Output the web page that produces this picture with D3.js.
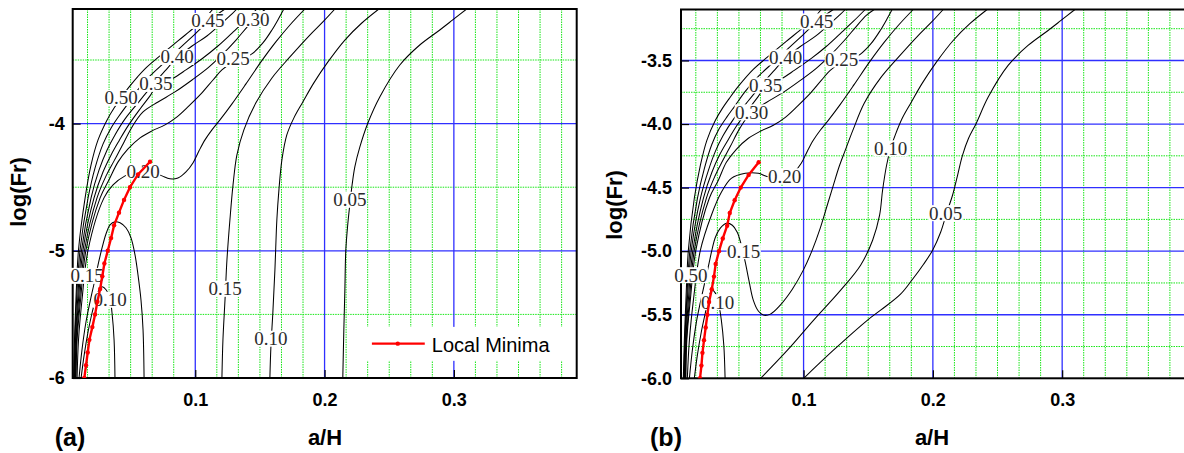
<!DOCTYPE html>
<html>
<head>
<meta charset="utf-8">
<script src="https://cdn.jsdelivr.net/npm/d3@7"></script>
<style>
  body { margin: 0; background: #fff; }
  svg { display: block; font-family: "Liberation Sans", Arial, sans-serif; }
</style>
</head>
<body>
<svg id="chart" width="1184" height="453"></svg>
<script>
// ---------------- data ----------------
// Contour traces, points are [a/H, log(Fr)].

// Panel (a)
const a_c050 = [[0.0059,-6.0],[0.0066,-5.699],[0.0077,-5.385],[0.0097,-4.992],[0.0148,-4.584],[0.0194,-4.324],[0.0248,-4.128],[0.0318,-3.971],[0.0372,-3.877],[0.0426,-3.798],[0.0495,-3.704],[0.0611,-3.570],[0.0727,-3.468],[0.0866,-3.350],[0.0998,-3.240],[0.1083,-3.162],[0.1137,-3.099]];
const a_c045 = [[0.0063,-6.0],[0.0070,-5.699],[0.0082,-5.385],[0.0109,-4.992],[0.0171,-4.584],[0.0225,-4.348],[0.0287,-4.159],[0.0349,-4.034],[0.0410,-3.940],[0.0472,-3.853],[0.0549,-3.743],[0.0650,-3.625],[0.0766,-3.515],[0.0882,-3.405],[0.0998,-3.296],[0.1098,-3.201],[0.1175,-3.138],[0.1230,-3.099]];
const a_c040 = [[0.0066,-6.0],[0.0074,-5.699],[0.0090,-5.385],[0.0121,-4.992],[0.0194,-4.584],[0.0256,-4.364],[0.0318,-4.207],[0.0379,-4.089],[0.0457,-3.963],[0.0557,-3.837],[0.0665,-3.704],[0.0766,-3.586],[0.0859,-3.484],[0.0975,-3.390],[0.1090,-3.311],[0.1206,-3.209],[0.1284,-3.138],[0.1322,-3.099]];
const a_c035 = [[0.0070,-6.0],[0.0078,-5.699],[0.0097,-5.385],[0.0132,-4.992],[0.0217,-4.584],[0.0287,-4.379],[0.0349,-4.246],[0.0410,-4.136],[0.0480,-4.018],[0.0573,-3.885],[0.0650,-3.782],[0.0704,-3.704],[0.0820,-3.649],[0.0928,-3.578],[0.1060,-3.484],[0.1175,-3.390],[0.1284,-3.288],[0.1384,-3.193],[0.1477,-3.099]];
const a_c030 = [[0.0074,-6.0],[0.0082,-5.699],[0.0105,-5.385],[0.0144,-4.992],[0.0240,-4.584],[0.0310,-4.411],[0.0372,-4.293],[0.0434,-4.175],[0.0511,-4.026],[0.0596,-3.908],[0.0712,-3.830],[0.0843,-3.751],[0.0975,-3.657],[0.1098,-3.562],[0.1206,-3.460],[0.1315,-3.343],[0.1407,-3.233],[0.1485,-3.146],[0.1546,-3.099]];
const a_c025 = [[0.0078,-6.0],[0.0086,-5.699],[0.0113,-5.385],[0.0155,-4.992],[0.0264,-4.584],[0.0333,-4.442],[0.0403,-4.301],[0.0480,-4.199],[0.0573,-4.112],[0.0665,-4.057],[0.0766,-4.010],[0.0859,-3.947],[0.0951,-3.861],[0.1044,-3.767],[0.1137,-3.657],[0.1206,-3.578],[0.1284,-3.523],[0.1361,-3.492],[0.1438,-3.452],[0.1523,-3.366],[0.1593,-3.264],[0.1647,-3.170],[0.1685,-3.099]];
const a_c020 = [[0.0086,-6.0],[0.0097,-5.699],[0.0124,-5.385],[0.0171,-4.992],[0.0294,-4.584],[0.0364,-4.482],[0.0457,-4.411],[0.0573,-4.372],[0.0665,-4.379],[0.0743,-4.411],[0.0804,-4.434],[0.0866,-4.427],[0.0928,-4.379],[0.0982,-4.309],[0.1029,-4.214],[0.1075,-4.128],[0.1129,-4.049],[0.1191,-3.971],[0.1284,-3.845],[0.1392,-3.688],[0.1508,-3.515],[0.1623,-3.358],[0.1732,-3.225],[0.1848,-3.099]];
const a_c015dome = [[0.0101,-6.0],[0.0124,-5.777],[0.0155,-5.558],[0.0186,-5.401],[0.0217,-5.259],[0.0248,-5.110],[0.0279,-4.977],[0.0310,-4.866],[0.0341,-4.796],[0.0379,-4.772],[0.0418,-4.780],[0.0464,-4.819],[0.0503,-4.898],[0.0534,-5.032],[0.0557,-5.189],[0.0580,-5.385],[0.0596,-5.621],[0.0604,-6.0]];
const a_c015 = [[0.1206,-6.0],[0.1214,-5.699],[0.1230,-5.385],[0.1245,-5.071],[0.1268,-4.756],[0.1292,-4.482],[0.1322,-4.246],[0.1376,-4.049],[0.1469,-3.837],[0.1593,-3.641],[0.1732,-3.476],[0.1886,-3.304],[0.1987,-3.201],[0.2080,-3.099]];
const a_c010dome = [[0.0117,-6.0],[0.0140,-5.824],[0.0171,-5.636],[0.0202,-5.487],[0.0233,-5.369],[0.0256,-5.306],[0.0279,-5.283],[0.0310,-5.306],[0.0341,-5.377],[0.0356,-5.487],[0.0372,-5.699],[0.0379,-6.0]];
const a_c010 = [[0.1577,-6.0],[0.1585,-5.754],[0.1600,-5.487],[0.1616,-5.149],[0.1631,-4.756],[0.1647,-4.521],[0.1670,-4.285],[0.1708,-4.089],[0.1763,-3.955],[0.1832,-3.830],[0.1917,-3.680],[0.2026,-3.515],[0.2157,-3.343],[0.2288,-3.209],[0.2420,-3.099]];
const a_c005 = [[0.2141,-6.0],[0.2149,-5.621],[0.2157,-5.306],[0.2164,-5.0],[0.2179,-4.796],[0.2195,-4.639],[0.2211,-4.497],[0.2234,-4.340],[0.2273,-4.183],[0.2335,-3.995],[0.2427,-3.790],[0.2582,-3.539],[0.2736,-3.382],[0.2891,-3.264],[0.2991,-3.185],[0.3099,-3.099]];

// Panel (b)
const b_c050 = [[0.0070,-6.0],[0.0078,-5.699],[0.0090,-5.385],[0.0109,-4.992],[0.0155,-4.584],[0.0202,-4.324],[0.0252,-4.128],[0.0318,-3.971],[0.0372,-3.877],[0.0426,-3.798],[0.0495,-3.704],[0.0611,-3.570],[0.0727,-3.468],[0.0866,-3.350],[0.0998,-3.240],[0.1083,-3.162],[0.1137,-3.099]];
const b_c045 = [[0.0074,-6.0],[0.0082,-5.699],[0.0096,-5.385],[0.0121,-4.992],[0.0179,-4.584],[0.0233,-4.348],[0.0291,-4.159],[0.0349,-4.034],[0.0410,-3.940],[0.0472,-3.853],[0.0549,-3.743],[0.0650,-3.625],[0.0766,-3.515],[0.0882,-3.405],[0.0998,-3.296],[0.1098,-3.201],[0.1175,-3.138],[0.1230,-3.099]];
const b_c040 = [[0.0078,-6.0],[0.0086,-5.699],[0.0101,-5.385],[0.0132,-4.992],[0.0202,-4.584],[0.0264,-4.364],[0.0321,-4.207],[0.0379,-4.089],[0.0457,-3.963],[0.0557,-3.837],[0.0665,-3.704],[0.0766,-3.586],[0.0859,-3.484],[0.0975,-3.390],[0.1090,-3.311],[0.1206,-3.209],[0.1284,-3.138],[0.1322,-3.099]];
const b_c035 = [[0.0082,-6.0],[0.0090,-5.699],[0.0109,-5.385],[0.0144,-4.992],[0.0225,-4.584],[0.0291,-4.379],[0.0349,-4.246],[0.0410,-4.136],[0.0480,-4.018],[0.0573,-3.885],[0.0650,-3.782],[0.0704,-3.704],[0.0820,-3.649],[0.0928,-3.578],[0.1060,-3.484],[0.1175,-3.390],[0.1284,-3.288],[0.1384,-3.193],[0.1477,-3.099]];
const b_c030 = [[0.0086,-6.0],[0.0094,-5.699],[0.0117,-5.385],[0.0155,-4.992],[0.0248,-4.584],[0.0314,-4.411],[0.0372,-4.293],[0.0434,-4.175],[0.0511,-4.026],[0.0596,-3.908],[0.0712,-3.830],[0.0843,-3.751],[0.0975,-3.657],[0.1098,-3.562],[0.1206,-3.460],[0.1315,-3.343],[0.1407,-3.233],[0.1485,-3.146],[0.1546,-3.099]];
const b_c025 = [[0.0090,-6.0],[0.0097,-5.699],[0.0124,-5.385],[0.0167,-4.992],[0.0271,-4.584],[0.0341,-4.442],[0.0403,-4.301],[0.0480,-4.199],[0.0573,-4.112],[0.0665,-4.057],[0.0766,-4.010],[0.0859,-3.947],[0.0951,-3.861],[0.1044,-3.767],[0.1137,-3.657],[0.1206,-3.578],[0.1284,-3.523],[0.1361,-3.492],[0.1438,-3.452],[0.1523,-3.366],[0.1593,-3.264],[0.1647,-3.170],[0.1685,-3.099]];
const b_c020 = [[0.0101,-6.0],[0.0117,-5.699],[0.0148,-5.385],[0.0202,-4.992],[0.0287,-4.717],[0.0364,-4.537],[0.0441,-4.427],[0.0549,-4.387],[0.0650,-4.387],[0.0712,-4.411],[0.0804,-4.434],[0.0866,-4.427],[0.0928,-4.379],[0.0982,-4.309],[0.1029,-4.214],[0.1075,-4.128],[0.1129,-4.049],[0.1191,-3.971],[0.1284,-3.845],[0.1392,-3.688],[0.1508,-3.515],[0.1623,-3.358],[0.1732,-3.225],[0.1848,-3.099]];
const b_c015 = [[0.0117,-6.0],[0.0140,-5.777],[0.0171,-5.558],[0.0202,-5.401],[0.0233,-5.259],[0.0264,-5.118],[0.0291,-4.992],[0.0318,-4.890],[0.0356,-4.819],[0.0403,-4.780],[0.0449,-4.796],[0.0487,-4.851],[0.0519,-4.953],[0.0549,-5.087],[0.0580,-5.244],[0.0611,-5.385],[0.0650,-5.471],[0.0689,-5.503],[0.0743,-5.495],[0.0820,-5.424],[0.0913,-5.299],[0.0998,-5.149],[0.1067,-4.992],[0.1129,-4.819],[0.1183,-4.639],[0.1230,-4.482],[0.1276,-4.332],[0.1322,-4.207],[0.1384,-4.042],[0.1469,-3.837],[0.1593,-3.641],[0.1732,-3.476],[0.1886,-3.304],[0.1987,-3.201],[0.2080,-3.099]];
const b_c010dome = [[0.0155,-6.0],[0.0179,-5.816],[0.0209,-5.636],[0.0240,-5.487],[0.0264,-5.377],[0.0291,-5.306],[0.0318,-5.330],[0.0345,-5.424],[0.0364,-5.542],[0.0383,-5.738],[0.0393,-6.0]];
const b_c010 = [[0.0668,-6.0],[0.0877,-5.777],[0.1078,-5.542],[0.1287,-5.306],[0.1441,-5.110],[0.1534,-4.914],[0.1588,-4.717],[0.1611,-4.521],[0.1642,-4.324],[0.1673,-4.191],[0.1708,-4.089],[0.1763,-3.955],[0.1832,-3.830],[0.1917,-3.680],[0.2026,-3.515],[0.2157,-3.343],[0.2288,-3.209],[0.2420,-3.099]];
const b_c005 = [[0.1001,-6.0],[0.1233,-5.777],[0.1495,-5.542],[0.1596,-5.464],[0.1750,-5.338],[0.1843,-5.221],[0.1928,-5.103],[0.1998,-4.992],[0.2060,-4.851],[0.2106,-4.701],[0.2152,-4.560],[0.2191,-4.403],[0.2229,-4.246],[0.2276,-4.112],[0.2335,-3.995],[0.2427,-3.790],[0.2582,-3.539],[0.2736,-3.382],[0.2891,-3.264],[0.2991,-3.185],[0.3099,-3.099]];

// Contour labels: [text, a/H, log(Fr)]
const labelsA = [["0.45",0.1098,-3.193],["0.30",0.1446,-3.178],["0.40",0.0859,-3.476],["0.25",0.1292,-3.492],
                 ["0.35",0.0696,-3.688],["0.50",0.0426,-3.798],["0.20",0.0596,-4.379],["0.05",0.2195,-4.599],
                 ["0.15",0.0163,-5.197],["0.10",0.0341,-5.385],["0.15",0.1230,-5.299],["0.10",0.1585,-5.691]];
const labelsB = [["0.45",0.1101,-3.193],["0.40",0.0862,-3.476],["0.25",0.1295,-3.492],["0.35",0.0707,-3.696],
                 ["0.30",0.0599,-3.908],["0.20",0.0854,-4.411],["0.15",0.0537,-5.0],["0.50",0.0128,-5.189],
                 ["0.10",0.0336,-5.401],["0.10",0.1673,-4.191],["0.05",0.2098,-4.701]];

// Local minima (red): a/H position for each log(Fr)
const minimaLogFr = [-6.0,-5.9,-5.8,-5.7,-5.6,-5.5,-5.4,-5.3,-5.2,-5.1,-5.0,-4.9,-4.8,-4.7,-4.6,-4.5,-4.4,-4.3];
const minimaA = [0.0142,0.0155,0.0168,0.0181,0.0204,0.0225,0.0243,0.0264,0.0281,0.0297,0.0323,0.0349,0.0372,0.0410,0.0449,0.0495,0.0557,0.0650];
const minimaB = [0.0199,0.0210,0.0218,0.0230,0.0243,0.0256,0.0269,0.0290,0.0307,0.0320,0.0346,0.0375,0.0409,0.0429,0.0467,0.0514,0.0575,0.0653];

// Axes
const xDomain = [0.0052, 0.3950];
const yDomain = [-6.0, -3.099];
const xTickValues = [0.1, 0.2, 0.3];
const xTickLabels = ["0.1", "0.2", "0.3"];
const yTicksA = [-4, -5, -6];
const yTickLabelsA = ["-4", "-5", "-6"];
const yTicksB = [-3.5, -4.0, -4.5, -5.0, -5.5, -6.0];
const yTickLabelsB = ["-3.5", "-4.0", "-4.5", "-5.0", "-5.5", "-6.0"];
const yGridMajorA = [-4, -5];
const yGridMinorA = [-3.5, -4.5, -5.5];
const yGridMajorB = [-3.5, -4.0, -4.5, -5.0, -5.5];
const yGridMinorB = [-3.25, -3.75, -4.25, -4.75, -5.25, -5.75];

// ---------------- drawing ----------------
const svg = d3.select("#chart");
const defs = svg.append("defs");
const GREEN = "#19e619", BLUE = "#2f2fff";

function drawPanel(cfg) {
  const x = d3.scaleLinear().domain(xDomain).range([cfg.left, cfg.left + cfg.width]);
  const y = d3.scaleLinear().domain(yDomain).range([cfg.top + cfg.height, cfg.top]);
  const x0 = cfg.left, x1 = cfg.left + cfg.width, y0 = cfg.top, y1 = cfg.top + cfg.height;

  defs.append("clipPath").attr("id", "clip-" + cfg.id)
    .append("rect").attr("x", x0).attr("y", y0).attr("width", cfg.width).attr("height", cfg.height);

  const root = svg.append("g");
  const plot = root.append("g").attr("clip-path", `url(#clip-${cfg.id})`);

  // grid
  const xMinor = d3.range(1, 24).filter(k => k % 6 !== 0).map(k => k / 60);
  plot.selectAll(".vmin").data(xMinor).join("line")
    .attr("x1", d => x(d)).attr("x2", d => x(d)).attr("y1", y0).attr("y2", y1)
    .attr("stroke", GREEN).attr("stroke-width", 1).attr("stroke-dasharray", "1.5,1");
  plot.selectAll(".hmin").data(cfg.gridMinor).join("line")
    .attr("x1", x0).attr("x2", x1).attr("y1", d => y(d)).attr("y2", d => y(d))
    .attr("stroke", GREEN).attr("stroke-width", 1).attr("stroke-dasharray", "1.5,1");
  plot.selectAll(".vmaj").data(xTickValues).join("line")
    .attr("x1", d => x(d)).attr("x2", d => x(d)).attr("y1", y0).attr("y2", y1)
    .attr("stroke", BLUE).attr("stroke-width", 1.3);
  plot.selectAll(".hmaj").data(cfg.gridMajor).join("line")
    .attr("x1", x0).attr("x2", x1).attr("y1", d => y(d)).attr("y2", d => y(d))
    .attr("stroke", BLUE).attr("stroke-width", 1.3);

  // legend background knocks out the grid
  if (cfg.legend) {
    plot.append("rect").attr("x", x(0.2250)).attr("y", y(-5.598)).attr("width", x1 - x(0.2250))
      .attr("height", y(-5.865) - y(-5.598)).attr("fill", "#fff");
  }

  // contour lines
  const line = d3.line().x(d => x(d[0])).y(d => y(d[1])).curve(d3.curveCatmullRom.alpha(0.5));
  plot.selectAll(".contour").data(cfg.contours).join("path")
    .attr("d", line).attr("fill", "none").attr("stroke", "#000").attr("stroke-width", 1.05);

  // frame
  root.append("rect").attr("x", x0).attr("y", y0).attr("width", cfg.width).attr("height", cfg.height)
    .attr("fill", "none").attr("stroke", "#000").attr("stroke-width", 2);

  // axes (ticks point inward)
  const bottom = root.append("g").attr("transform", `translate(0,${y1})`);
  bottom.call(d3.axisBottom(x).tickValues(xMinor).tickSize(-4).tickFormat(""));
  bottom.call(d3.axisBottom(x).tickValues(xTickValues).tickSize(-8).tickPadding(15)
    .tickFormat((d, i) => xTickLabels[i]));
  const left = root.append("g").attr("transform", `translate(${x0},0)`);
  left.call(d3.axisLeft(y).tickValues(cfg.gridMinor).tickSize(-4).tickFormat(""));
  left.call(d3.axisLeft(y).tickValues(cfg.yTicks).tickSize(-8).tickPadding(cfg.yPad)
    .tickFormat((d, i) => cfg.yLabels[i]));
  root.selectAll(".domain").remove();
  root.selectAll(".tick line").attr("stroke", "#000").attr("stroke-width", 1.2);
  root.selectAll(".tick text").attr("font-family", "Liberation Sans, Arial, sans-serif")
    .attr("font-size", 18).attr("font-weight", "bold").attr("fill", "#000");

  // contour labels with white boxes
  const lab = root.append("g");
  cfg.labels.forEach(d => {
    const cx = x(d[1]), cy = y(d[2]);
    const t = lab.append("text").attr("x", cx).attr("y", cy + 6.5).attr("text-anchor", "middle")
      .attr("font-family", "Liberation Serif, Times New Roman, serif").attr("font-size", 19)
      .attr("fill", "#2b2b2b").text(d[0]);
    const bb = t.node().getBBox();
    lab.insert("rect", () => t.node()).attr("x", bb.x - 0.5).attr("y", cy - 8)
      .attr("width", bb.width + 1).attr("height", 16).attr("fill", "#fff");
  });

  // local minima curve
  const pts = cfg.minima.map((v, i) => [v, minimaLogFr[i]]);
  const red = root.append("g").attr("clip-path", `url(#clip-${cfg.id})`);
  red.append("path").attr("d", d3.line().x(d => x(d[0])).y(d => y(d[1]))(pts))
    .attr("fill", "none").attr("stroke", "#ff0000").attr("stroke-width", 2.4);
  red.selectAll("circle").data(pts).join("circle")
    .attr("cx", d => x(d[0])).attr("cy", d => y(d[1])).attr("r", 2.2).attr("fill", "#ff0000");

  // axis titles
  root.append("text").attr("x", cfg.xTitleX).attr("y", 445).attr("text-anchor", "middle")
    .attr("font-size", 22).attr("font-weight", "bold").text("a/H");
  root.append("text").attr("transform", `translate(${cfg.yTitleX},${cfg.yTitleY}) rotate(-90)`)
    .attr("text-anchor", "middle").attr("font-size", 22).attr("font-weight", "bold").text("log(Fr)");
  root.append("text").attr("x", cfg.tagX).attr("y", 446).attr("text-anchor", "middle")
    .attr("font-size", 25).attr("font-weight", "bold").text(cfg.tag);

  // legend
  if (cfg.legend) {
    const ly = y(-5.730);
    root.append("line").attr("x1", x(0.2366)).attr("x2", x(0.2775)).attr("y1", ly).attr("y2", ly)
      .attr("stroke", "#ff0000").attr("stroke-width", 2.4);
    root.append("circle").attr("cx", x(0.2566)).attr("cy", ly).attr("r", 2.2).attr("fill", "#ff0000");
    root.append("text").attr("x", x(0.2775) + 7).attr("y", ly + 8).attr("font-size", 20)
      .attr("fill", "#000").text("Local Minima");
  }
}

drawPanel({
  id: "a", left: 72.7, top: 9, width: 504, height: 369,
  contours: [a_c050, a_c045, a_c040, a_c035, a_c030, a_c025, a_c020, a_c015dome, a_c015, a_c010dome, a_c010, a_c005],
  labels: labelsA, minima: minimaA,
  gridMajor: yGridMajorA, gridMinor: yGridMinorA,
  yTicks: yTicksA, yLabels: yTickLabelsA, yPad: 8,
  xTitleX: 325, yTitleX: 26, yTitleY: 192, tag: "(a)", tagX: 70, legend: true
});
drawPanel({
  id: "b", left: 681, top: 9.5, width: 504, height: 368.8,
  contours: [b_c050, b_c045, b_c040, b_c035, b_c030, b_c025, b_c020, b_c015, b_c010dome, b_c010, b_c005],
  labels: labelsB, minima: minimaB,
  gridMajor: yGridMajorB, gridMinor: yGridMinorB,
  yTicks: yTicksB, yLabels: yTickLabelsB, yPad: 9,
  xTitleX: 932, yTitleX: 622, yTitleY: 205, tag: "(b)", tagX: 666, legend: false
});
</script>
</body>
</html>
